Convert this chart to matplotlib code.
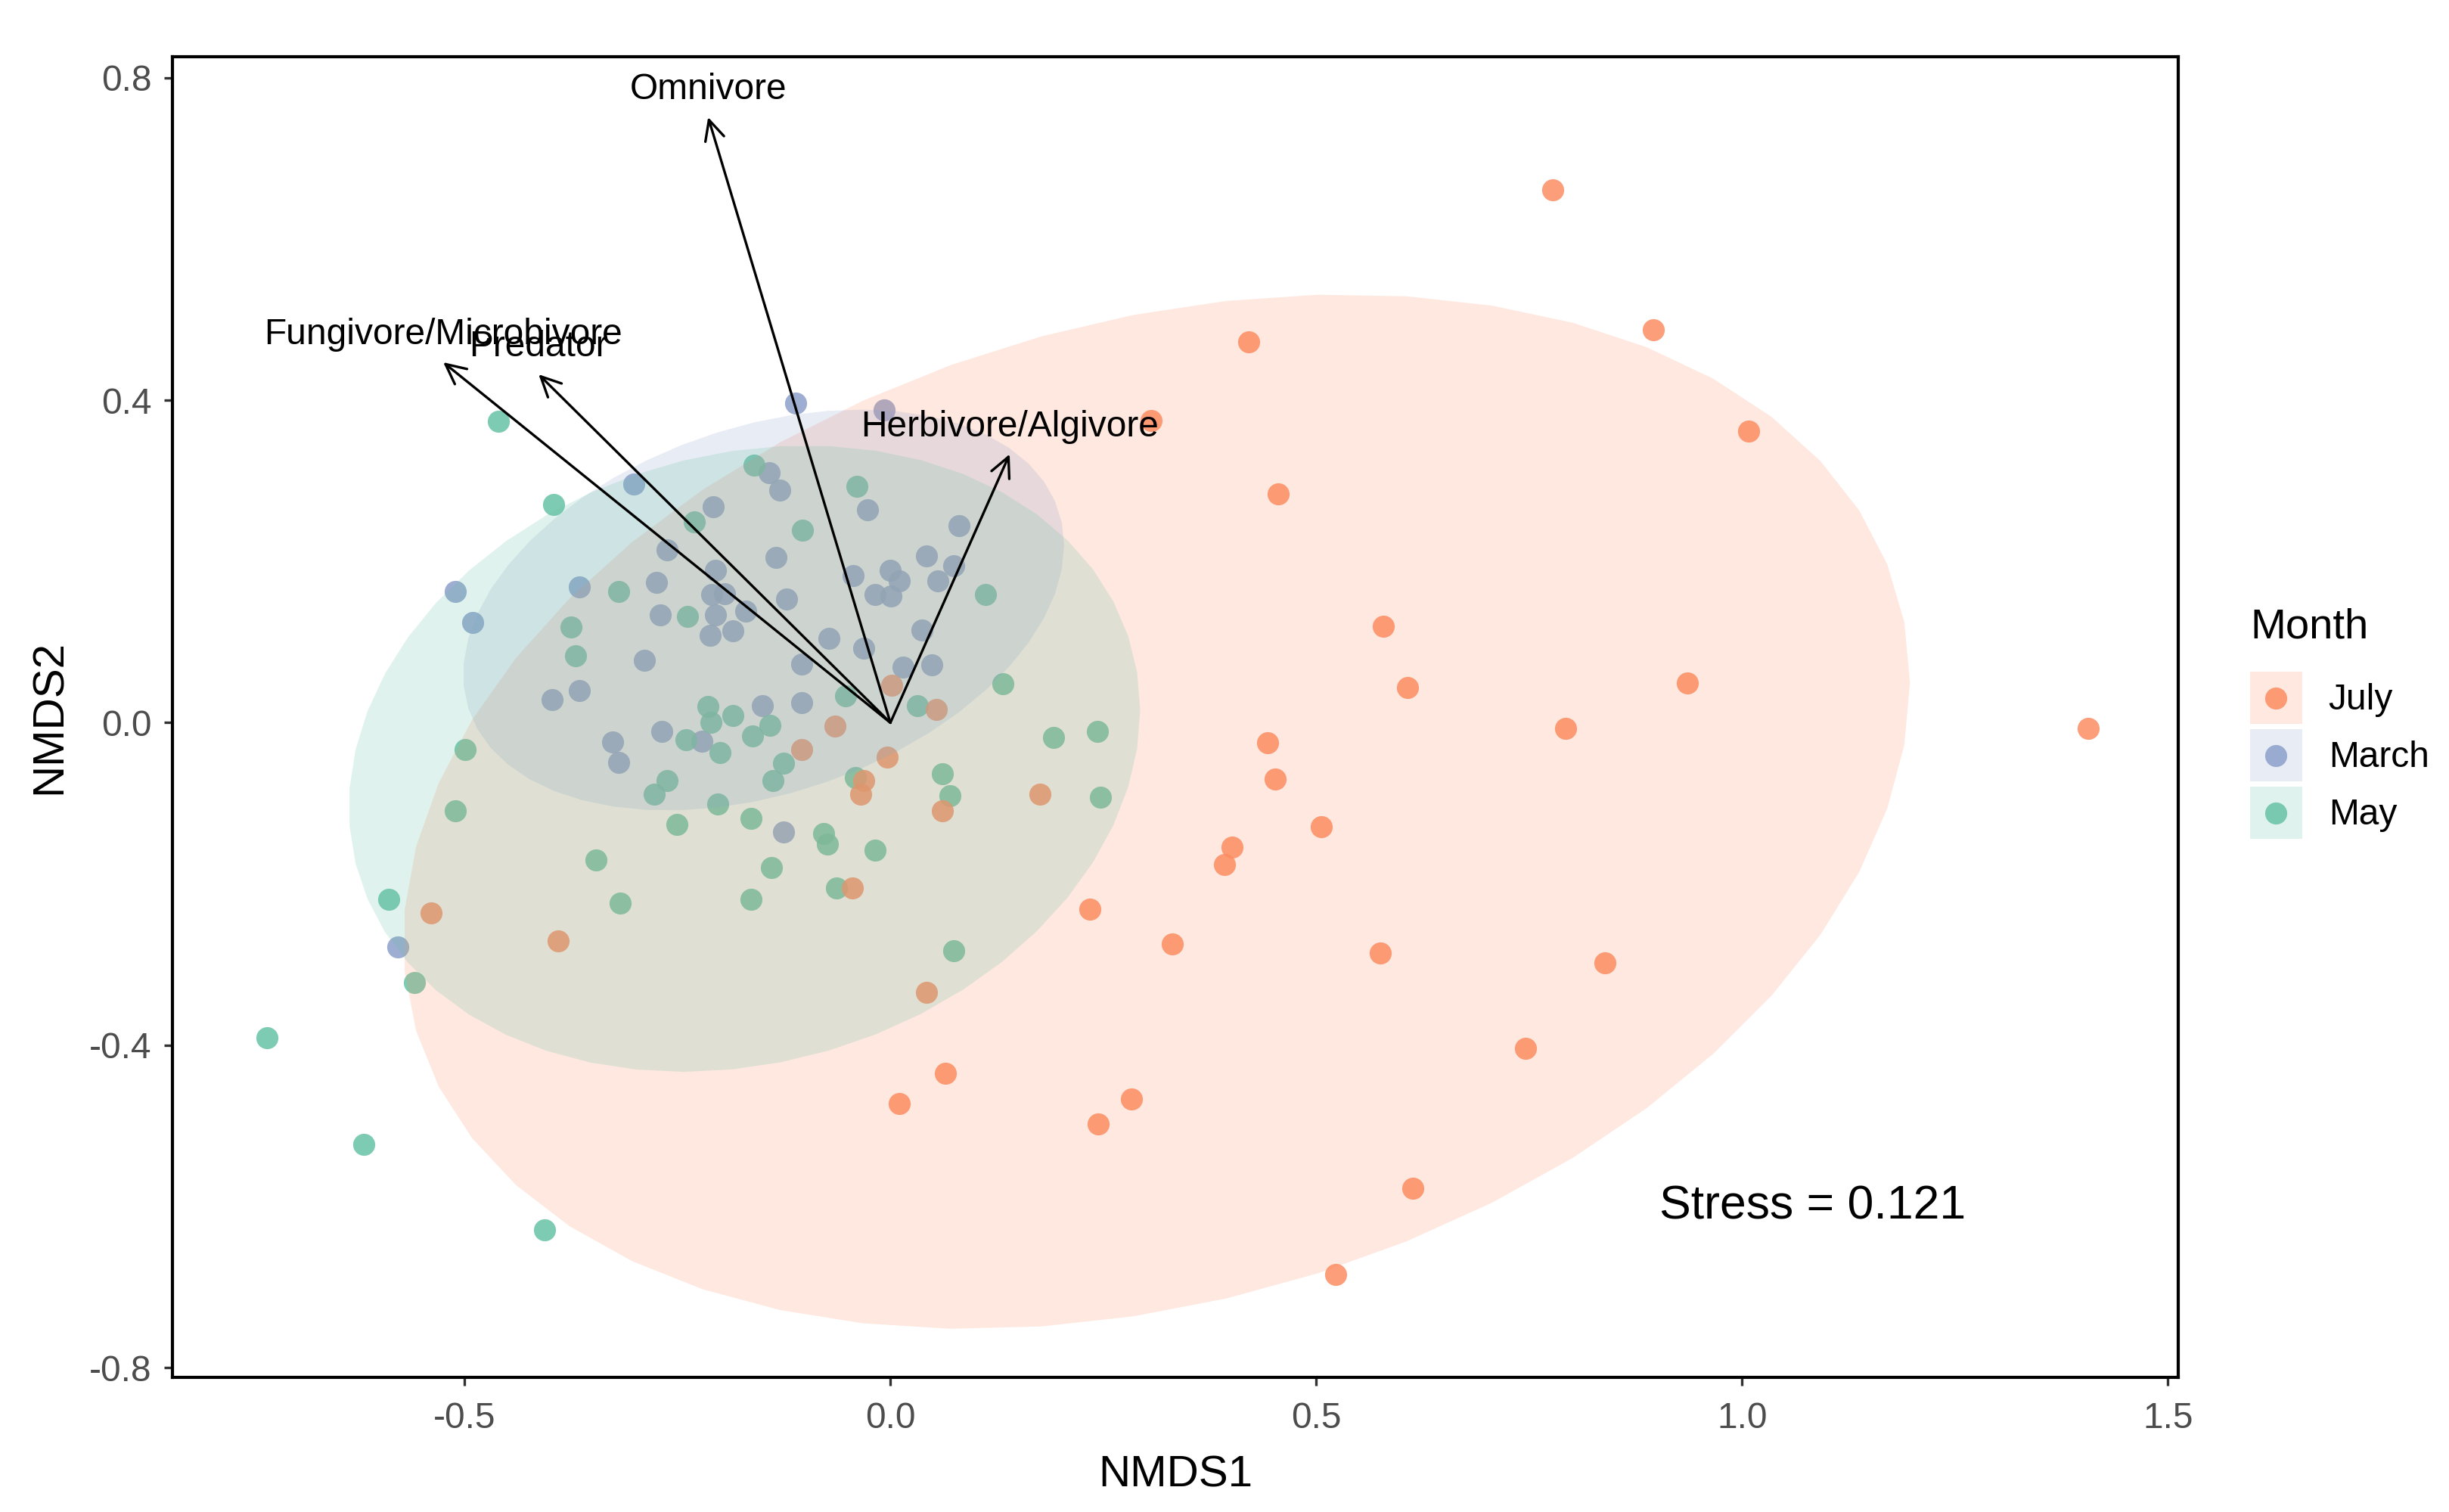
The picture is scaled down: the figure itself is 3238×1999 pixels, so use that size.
import matplotlib
matplotlib.use("Agg")
import matplotlib.pyplot as plt
import numpy as np
from matplotlib.lines import Line2D
from matplotlib.patches import Patch, Rectangle

plt.rcParams["font.family"] = ["Liberation Sans", "DejaVu Sans"]

# NMDS site scores by month
july_x = [0.778, 0.421, 0.896, 1.008, 0.306, 0.455, 0.579, 0.607, 0.936, 0.793,
          1.406, 0.443, 0.452, 0.506, 0.401, 0.392, 0.234, 0.331, 0.575, 0.839,
          0.746, 0.283, 0.244, 0.613, 0.523, 0.002, 0.054, -0.065, -0.104, -0.004,
          -0.031, -0.035, 0.176, 0.061, -0.539, -0.390, -0.045, 0.042, 0.065, 0.010]
july_y = [0.661, 0.472, 0.487, 0.362, 0.375, 0.284, 0.120, 0.044, 0.049, -0.007,
          -0.007, -0.025, -0.070, -0.129, -0.154, -0.176, -0.231, -0.274, -0.286, -0.298,
          -0.404, -0.467, -0.498, -0.577, -0.684, 0.046, 0.016, -0.004, -0.033, -0.043,
          -0.072, -0.089, -0.089, -0.109, -0.236, -0.271, -0.205, -0.334, -0.435, -0.472]

march_x = [-0.111, -0.007, -0.301, -0.142, -0.130, -0.027, -0.208, 0.081, -0.262, -0.134,
           0.042, -0.205, -0.044, 0.000, 0.010, 0.074, 0.056, -0.365, -0.275, -0.210,
           -0.195, -0.122, -0.018, 0.001, -0.270, -0.205, -0.170, -0.185, -0.212, -0.072,
           0.037, -0.031, -0.289, -0.104, 0.015, 0.049, -0.365, -0.397, -0.150, -0.104,
           -0.268, -0.221, -0.326, -0.319, -0.125, -0.511, -0.490, -0.578]
march_y = [0.396, 0.388, 0.296, 0.310, 0.288, 0.264, 0.268, 0.244, 0.214, 0.205,
           0.207, 0.189, 0.182, 0.189, 0.176, 0.195, 0.176, 0.168, 0.174, 0.159,
           0.160, 0.153, 0.159, 0.157, 0.134, 0.134, 0.138, 0.114, 0.108, 0.105,
           0.115, 0.092, 0.077, 0.073, 0.069, 0.072, 0.040, 0.029, 0.021, 0.025,
           -0.011, -0.023, -0.024, -0.049, -0.136, 0.163, 0.124, -0.278]

may_x = [-0.460, -0.395, -0.160, -0.039, -0.230, -0.103, -0.319, 0.112, -0.238, -0.375,
         -0.370, 0.132, -0.053, 0.032, -0.214, -0.185, -0.211, -0.141, -0.240, -0.162,
         -0.200, -0.125, -0.499, -0.262, -0.277, -0.138, -0.041, 0.061, 0.070, 0.192,
         0.243, 0.247, -0.511, -0.203, -0.251, -0.164, -0.078, -0.074, -0.018, -0.346,
         -0.140, -0.589, -0.317, -0.164, -0.063, -0.559, 0.074, -0.732, -0.618, -0.406]
may_y = [0.374, 0.271, 0.319, 0.293, 0.249, 0.239, 0.163, 0.159, 0.132, 0.119,
         0.083, 0.048, 0.033, 0.021, 0.020, 0.009, 0.000, -0.003, -0.021, -0.016,
         -0.037, -0.050, -0.033, -0.072, -0.089, -0.072, -0.068, -0.063, -0.091, -0.018,
         -0.011, -0.092, -0.109, -0.101, -0.126, -0.119, -0.137, -0.151, -0.158, -0.170,
         -0.180, -0.219, -0.224, -0.219, -0.205, -0.322, -0.283, -0.391, -0.523, -0.629]

months = ["July", "March", "May"]
month_colors = {"July": "#FC8D62", "March": "#8DA0CB", "May": "#66C2A5"}

# envfit vectors (feeding groups)
traits = ["Omnivore", "Fungivore/Microbivore", "Predator", "Herbivore/Algivore"]
vec_x = [-0.214, -0.525, -0.413, 0.140]
vec_y = [0.751, 0.447, 0.432, 0.333]

stress = 0.121


def cov_trob(pts, nu=5, maxit=25, tol=0.01):
    # port of MASS::cov.trob, as used by ggplot2::stat_ellipse
    n, p = pts.shape
    loc = pts.mean(axis=0)
    w = np.ones(n)
    for _ in range(maxit):
        w0 = w
        X = pts - loc
        _, d, vt = np.linalg.svd(np.sqrt(w / w.sum())[:, None] * X, full_matrices=False)
        wX = X @ vt.T @ np.diag(1 / d)
        Q = (wX ** 2).sum(axis=1)
        w = (nu + p) / (nu + Q)
        loc = (w[:, None] * pts).sum(axis=0) / w.sum()
        if np.all(np.abs(w - w0) < tol):
            break
    cov = (np.sqrt(w)[:, None] * X).T @ (np.sqrt(w)[:, None] * X) / n
    return loc, cov


def ellipse_path(xs, ys, level=0.95, segments=51):
    pts = np.column_stack([xs, ys])
    center, shape = cov_trob(pts)
    dfd = len(xs) - 1
    qf = (dfd / 2) * ((1 - level) ** (-2 / dfd) - 1)
    radius = np.sqrt(2 * qf)
    chol = np.linalg.cholesky(shape).T
    ang = np.arange(segments + 1) * 2 * np.pi / segments
    circ = np.column_stack([np.cos(ang), np.sin(ang)])
    return center + radius * circ @ chol


class KeyHandler:
    # ggplot-like key: translucent square with a dot in its centre
    def legend_artist(self, legend, orig_handle, fontsize, handlebox):
        x0, y0 = handlebox.xdescent, handlebox.ydescent
        w, h = handlebox.width, handlebox.height
        c = orig_handle.get_facecolor()[:3]
        rect = Rectangle((-x0, -y0), w, h, facecolor=c, alpha=0.2,
                         edgecolor="none", transform=handlebox.get_transform())
        dot = Line2D([w / 2 - x0], [h / 2 - y0], linestyle="none", marker="o",
                     markersize=7, markerfacecolor=c, markeredgewidth=0, alpha=0.85,
                     transform=handlebox.get_transform())
        handlebox.add_artist(rect)
        handlebox.add_artist(dot)
        return rect


data = {"July": (july_x, july_y), "March": (march_x, march_y), "May": (may_x, may_y)}

fig = plt.figure(figsize=(3238 / 300, 1999 / 300), dpi=300)
ax = fig.add_axes([0.0704, 0.0890, 0.819, 0.8735])

for m in ["March", "May", "July"]:
    ax.scatter(data[m][0], data[m][1], s=49, color=month_colors[m], alpha=0.85,
               linewidths=0, zorder=2)

for m in months:
    el = ellipse_path(*data[m])
    ax.fill(el[:, 0], el[:, 1], color=month_colors[m], alpha=0.2, linewidth=0, zorder=3)

for name, vx, vy in zip(traits, vec_x, vec_y):
    ax.annotate("", xy=(vx, vy), xytext=(0, 0),
                arrowprops=dict(arrowstyle="->,head_length=0.45,head_width=0.22",
                                lw=0.8, color="black", mutation_scale=14,
                                shrinkA=0, shrinkB=0), zorder=4)
    ax.text(vx, vy + 0.034, name, ha="center", va="center", fontsize=11.5,
            color="black", zorder=5)

ax.text(1.083, -0.60, f"Stress = {stress}", ha="center", va="center", fontsize=15)

ax.set_xlim(-0.843, 1.512)
ax.set_ylim(-0.812, 0.826)
xt = [-0.5, 0.0, 0.5, 1.0, 1.5]
yt = [-0.8, -0.4, 0.0, 0.4, 0.8]
ax.set_xticks(xt)
ax.set_xticklabels([f"{v:.1f}" for v in xt])
ax.set_yticks(yt)
ax.set_yticklabels([f"{v:.1f}" for v in yt])
ax.tick_params(axis="both", length=2.75, width=0.8, color="#333333",
               labelcolor="#4D4D4D", labelsize=11.5)
ax.tick_params(axis="x", pad=5)
ax.tick_params(axis="y", pad=3.8)
for sp in ax.spines.values():
    sp.set_linewidth(1.0)
    sp.set_color("black")
ax.set_xlabel("NMDS1", fontsize=14, labelpad=6)
ax.set_ylabel("NMDS2", fontsize=14, labelpad=6)

handles = [Patch(facecolor=month_colors[m]) for m in months]
leg = fig.legend(handles, months, title="Month", loc="center left",
                 bbox_to_anchor=(2975 / 3238, 1 - 956 / 1999), frameon=False,
                 borderpad=0, borderaxespad=0, handlelength=1.435, handleheight=1.83,
                 labelspacing=0.15, handletextpad=0.73, fontsize=11.5,
                 title_fontsize=13.5, alignment="left",
                 handler_map={Patch: KeyHandler()})
leg._legend_box.sep = 8

fig.savefig("out.png", dpi=300)
